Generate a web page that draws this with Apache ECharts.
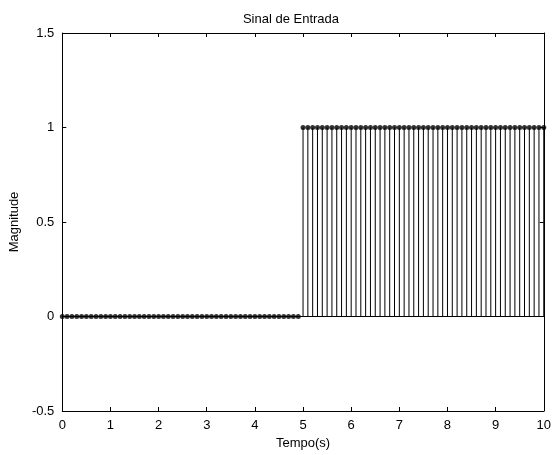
<!DOCTYPE html>
<html>
<head>
<meta charset="utf-8">
<script src="https://cdn.jsdelivr.net/npm/echarts@6/dist/echarts.min.js"></script>
<style>html,body{margin:0;padding:0;background:#fff;}#c{width:554px;height:455px;}</style>
</head>
<body>
<div id="c"></div>
<script>
var titleText = 'Sinal de Entrada';
var xLabel = 'Tempo(s)';
var yLabel = 'Magnitude';
var xTicks = [0, 1, 2, 3, 4, 5, 6, 7, 8, 9, 10];
var yTicks = [-0.5, 0, 0.5, 1, 1.5];
var tempo = [0, 0.1, 0.2, 0.3, 0.4, 0.5, 0.6, 0.7, 0.8, 0.9,
  1, 1.1, 1.2, 1.3, 1.4, 1.5, 1.6, 1.7, 1.8, 1.9,
  2, 2.1, 2.2, 2.3, 2.4, 2.5, 2.6, 2.7, 2.8, 2.9,
  3, 3.1, 3.2, 3.3, 3.4, 3.5, 3.6, 3.7, 3.8, 3.9,
  4, 4.1, 4.2, 4.3, 4.4, 4.5, 4.6, 4.7, 4.8, 4.9,
  5, 5.1, 5.2, 5.3, 5.4, 5.5, 5.6, 5.7, 5.8, 5.9,
  6, 6.1, 6.2, 6.3, 6.4, 6.5, 6.6, 6.7, 6.8, 6.9,
  7, 7.1, 7.2, 7.3, 7.4, 7.5, 7.6, 7.7, 7.8, 7.9,
  8, 8.1, 8.2, 8.3, 8.4, 8.5, 8.6, 8.7, 8.8, 8.9,
  9, 9.1, 9.2, 9.3, 9.4, 9.5, 9.6, 9.7, 9.8, 9.9,
  10];
var magnitude = [0, 0, 0, 0, 0, 0, 0, 0, 0, 0,
  0, 0, 0, 0, 0, 0, 0, 0, 0, 0,
  0, 0, 0, 0, 0, 0, 0, 0, 0, 0,
  0, 0, 0, 0, 0, 0, 0, 0, 0, 0,
  0, 0, 0, 0, 0, 0, 0, 0, 0, 0,
  1, 1, 1, 1, 1, 1, 1, 1, 1, 1,
  1, 1, 1, 1, 1, 1, 1, 1, 1, 1,
  1, 1, 1, 1, 1, 1, 1, 1, 1, 1,
  1, 1, 1, 1, 1, 1, 1, 1, 1, 1,
  1, 1, 1, 1, 1, 1, 1, 1, 1, 1,
  1];

var pts = tempo.map(function (t, i) { return [t, magnitude[i]]; });
var FONT = 'Liberation Sans, Arial, sans-serif';

var chart = echarts.init(document.getElementById('c'), null, {renderer: 'canvas'});
var axisCommon = {
  type: 'value',
  axisLine: {show: true, onZero: false, lineStyle: {color: '#000', width: 1}},
  axisTick: {show: true, inside: true, length: 4, lineStyle: {color: '#000'}},
  splitLine: {show: false}
};
chart.setOption({
  animation: false,
  backgroundColor: '#fff',
  title: {
    text: titleText, left: 286, top: 8, textAlign: 'center',
    textStyle: {fontFamily: FONT, fontSize: 13, fontWeight: 'normal', color: '#000'}
  },
  grid: {left: 62, right: 9, top: 33, bottom: 39, containLabel: false},
  xAxis: [
    Object.assign({}, axisCommon, {
      position: 'bottom', min: xTicks[0], max: xTicks[xTicks.length - 1], interval: 1,
      name: xLabel, nameLocation: 'middle', nameGap: 26,
      nameTextStyle: {fontFamily: FONT, fontSize: 13, color: '#000'},
      axisLabel: {fontFamily: FONT, fontSize: 13, color: '#000', margin: 8}
    }),
    Object.assign({}, axisCommon, {
      position: 'top', min: xTicks[0], max: xTicks[xTicks.length - 1], interval: 1,
      axisLabel: {show: false}
    })
  ],
  yAxis: [
    Object.assign({}, axisCommon, {
      position: 'left', min: yTicks[0], max: yTicks[yTicks.length - 1], interval: 0.5,
      name: yLabel, nameLocation: 'middle', nameGap: 39, nameRotate: 90,
      nameTextStyle: {fontFamily: FONT, fontSize: 13, color: '#000'},
      axisLabel: {fontFamily: FONT, fontSize: 13, color: '#000', margin: 8}
    }),
    Object.assign({}, axisCommon, {
      position: 'right', min: yTicks[0], max: yTicks[yTicks.length - 1], interval: 0.5,
      axisLabel: {show: false}
    })
  ],
  series: [
    {
      type: 'custom',
      xAxisIndex: 0, yAxisIndex: 0,
      data: pts,
      renderItem: function (params, api) {
        var x = api.value(0), y = api.value(1);
        var p0 = api.coord([x, 0]);
        var p1 = api.coord([x, y]);
        return {
          type: 'line',
          shape: {x1: p0[0], y1: p0[1], x2: p1[0], y2: p1[1]},
          style: {stroke: '#000', lineWidth: 1}
        };
      },
      z: 2
    },
    {
      type: 'scatter',
      xAxisIndex: 0, yAxisIndex: 0,
      data: pts,
      symbol: 'circle', symbolSize: 5,
      itemStyle: {color: '#000'},
      markLine: {
        silent: true, symbol: 'none', label: {show: false},
        lineStyle: {color: '#000', width: 1, type: 'solid'},
        data: [[{coord: [tempo[0], 0]}, {coord: [tempo[tempo.length - 1], 0]}]]
      },
      z: 3
    }
  ]
});
</script>
</body>
</html>
